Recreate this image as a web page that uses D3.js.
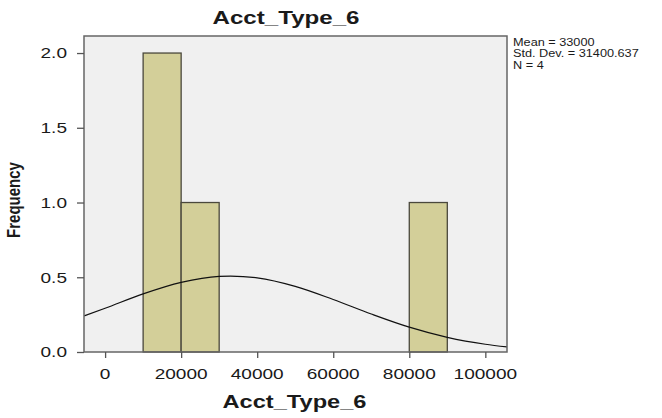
<!DOCTYPE html>
<html lang="en">
<head>
  <meta charset="UTF-8">
  <title>Acct_Type_6</title>
  <style>
    body { margin: 0; background: #fff; }
    text { font-family: "Liberation Sans", Arial, sans-serif; fill: #1a1a1a; }
  </style>
</head>
<body>
<div id="chart"></div>
<script src="https://cdn.jsdelivr.net/npm/d3@7"></script>
<script>
// data
const binLo = [10000, 20000, 80000];
const binHi = [20000, 30000, 90000];
const freq = [2, 1, 1];

const xTicks = [0, 20000, 40000, 60000, 80000, 100000];
const yTicks = [0, 0.5, 1.0, 1.5, 2.0];

// normal curve
const curveX = [-5500, 0, 10000, 20000, 30000, 33000, 40000, 50000, 60000, 70000, 80000, 90000, 100000, 105700];
const curveY = [0.242, 0.293, 0.389, 0.466, 0.506, 0.508, 0.496, 0.439, 0.351, 0.254, 0.166, 0.098, 0.052, 0.034];

const statLines = ["Mean = 33000", "Std. Dev. = 31400.637", "N = 4"];
const title = "Acct_Type_6";
const xTitle = "Acct_Type_6";
const yTitle = "Frequency";

// layout (the original picture is stretched sideways, so text is too)
const W = 662, H = 418;
const plot = {left: 84, right: 507, top: 36, bottom: 352};
const sx = 1.27;

const svg = d3.select("#chart").append("svg")
  .attr("width", W)
  .attr("height", H);

const x = d3.scaleLinear()
  .domain([-5550, 105700])
  .range([plot.left, plot.right]);

const y = d3.scaleLinear()
  .domain([0, 2.114])
  .range([plot.bottom, plot.top]);

// text helper: stretched horizontally
function label(g, str, px, py, opts) {
  return g.append("text")
    .attr("transform", `translate(${px},${py}) scale(${sx},1)` + (opts.rotate ? " rotate(-90)" : ""))
    .attr("text-anchor", opts.anchor || "start")
    .style("font-size", opts.size + "px")
    .style("font-weight", opts.bold ? "bold" : "normal")
    .text(str);
}

// plot background
svg.append("rect")
  .attr("x", plot.left)
  .attr("y", plot.top)
  .attr("width", plot.right - plot.left)
  .attr("height", plot.bottom - plot.top)
  .attr("fill", "#f0f0f0");

svg.append("defs").append("clipPath")
  .attr("id", "clip")
  .append("rect")
  .attr("x", plot.left)
  .attr("y", plot.top)
  .attr("width", plot.right - plot.left)
  .attr("height", plot.bottom - plot.top);

// bars
const bins = freq.map((f, i) => ({lo: binLo[i], hi: binHi[i], f: f}));
svg.append("g")
  .selectAll("rect")
  .data(bins)
  .join("rect")
    .attr("x", d => x(d.lo))
    .attr("y", d => y(d.f))
    .attr("width", d => x(d.hi) - x(d.lo))
    .attr("height", d => y(0) - y(d.f))
    .attr("fill", "#d3cf99")
    .attr("stroke", "#4a483c")
    .attr("stroke-width", 1.3);

// normal curve
const pts = curveX.map((v, i) => [v, curveY[i]]);
svg.append("path")
  .datum(pts)
  .attr("clip-path", "url(#clip)")
  .attr("fill", "none")
  .attr("stroke", "#111")
  .attr("stroke-width", 1.2)
  .attr("d", d3.line()
    .x(d => x(d[0]))
    .y(d => y(d[1]))
    .curve(d3.curveMonotoneX));

// frame
svg.append("rect")
  .attr("x", plot.left)
  .attr("y", plot.top)
  .attr("width", plot.right - plot.left)
  .attr("height", plot.bottom - plot.top)
  .attr("fill", "none")
  .attr("stroke", "#666")
  .attr("stroke-width", 1.5);

// y axis
const yAxis = svg.append("g")
  .attr("transform", `translate(${plot.left},0)`)
  .call(d3.axisLeft(y).tickValues(yTicks).tickSize(7).tickFormat(""));
yAxis.select(".domain").remove();
yAxis.selectAll("line").attr("stroke", "#555").attr("stroke-width", 1.3);
yTicks.forEach(t => {
  label(svg, d3.format(".1f")(t), 67, y(t) + 5.3, {size: 15, anchor: "end"});
});

// x axis
const xAxis = svg.append("g")
  .attr("transform", `translate(0,${plot.bottom})`)
  .call(d3.axisBottom(x).tickValues(xTicks).tickSize(6).tickFormat(""));
xAxis.select(".domain").remove();
xAxis.selectAll("line").attr("stroke", "#555").attr("stroke-width", 1.3);
xTicks.forEach(t => {
  label(svg, String(t), x(t), 378.5, {size: 15, anchor: "middle"});
});

// titles
label(svg, title, 286, 24, {size: 19, bold: true, anchor: "middle"});
label(svg, xTitle, 294.5, 408, {size: 18.6, bold: true, anchor: "middle"});
label(svg, yTitle, 20, 200, {size: 15, bold: true, anchor: "middle", rotate: true});

// stats box
statLines.forEach((s, i) => {
  label(svg, s, 513, 45.6 + i * 11.6, {size: 10});
});
</script>
</body>
</html>
